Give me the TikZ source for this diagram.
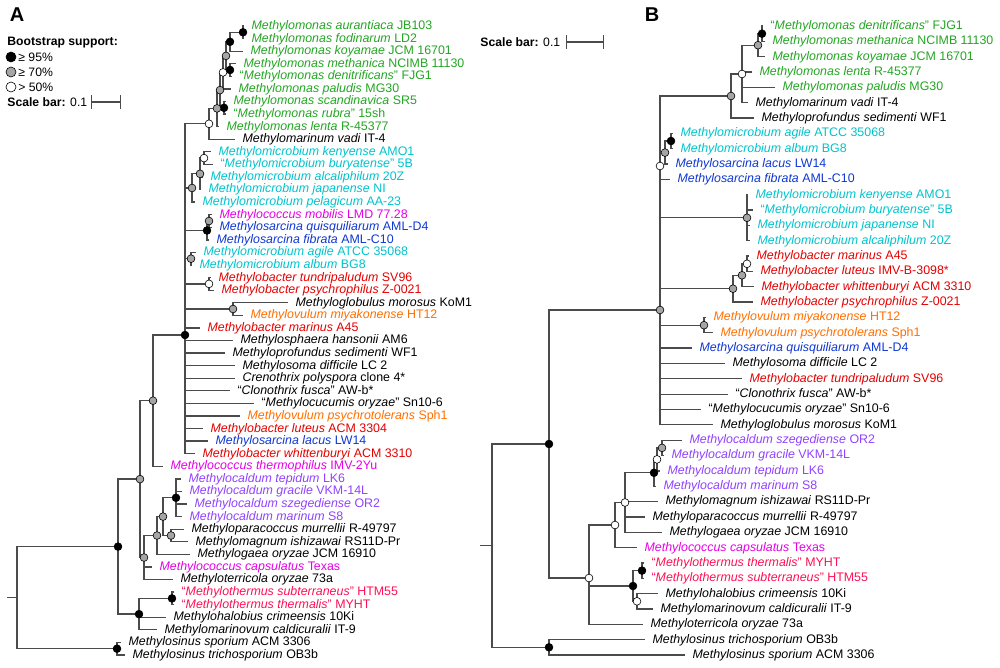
\documentclass[tikz,border=0pt]{standalone}
\usepackage{fontspec}
\setmainfont{Liberation Sans}
\usepackage{tikz}

\definecolor{brgray}{RGB}{75,75,75}
\definecolor{bsgray}{RGB}{165,165,165}
\definecolor{mgreen}{RGB}{35,165,35}
\definecolor{mcyan}{RGB}{0,195,205}
\definecolor{mmagenta}{RGB}{230,0,230}
\definecolor{mblue}{RGB}{15,55,210}
\definecolor{mred}{RGB}{228,0,0}
\definecolor{morange}{RGB}{255,110,0}
\definecolor{mpurple}{RGB}{145,65,255}
\definecolor{mpink}{RGB}{255,15,85}

\newcommand{\gsp}[2]{\textit{#1} #2}
\newcommand{\gqsp}[2]{“\textit{#1}” #2}

\begin{document}
\begin{tikzpicture}[x=0.5pt, y=-0.5pt,
  br/.style = {draw=brgray, line width=0.65pt},
  leaf/.style = {anchor=west, inner xsep=3.6pt, inner ysep=0pt,
    text height=4.7pt, text depth=1.25pt, font=\fontsize{6.2}{7}\selectfont},
  legtext/.style = {anchor=west, inner sep=0pt, font=\fontsize{6.1}{7}\selectfont},
  panel/.style = {inner sep=0pt, font=\fontsize{10}{11}\selectfont\bfseries},
  bsdot/.style = {circle, draw=black, line width=0.3pt, inner sep=0pt, minimum size=3.9pt},
  boot95/.style = {bsdot, fill=black},
  boot70/.style = {bsdot, fill=bsgray},
  boot50/.style = {bsdot, fill=white},
  legdot/.style = {minimum size=5pt}]
\useasboundingbox (0,0) rectangle (1000,668);

% panel A: legend
\node[panel] (pA) at (17,15) {A};
\node[legtext] (legTitle) at (7,43) {\bfseries Bootstrap support:};
\node[boot95, legdot] (leg95) at (11,57) {};
\node[boot70, legdot] (leg70) at (11,72) {};
\node[boot50, legdot] (leg50) at (11,87) {};
\node[legtext] (leg95t) at (18,57) {≥ 95\%};
\node[legtext] (leg70t) at (18,72) {≥ 70\%};
\node[legtext] (leg50t) at (18,87) {> 50\%};
\node[legtext] (sbAt) at (7,102) {\textbf{Scale bar:} 0.1};
\coordinate (sbA1) at (91,102);
\coordinate (sbA2) at (121,102);
\draw[br, |-|] (sbA1) -- (sbA2);

% panel A: inner nodes
\coordinate (aRoot0) at (7,597.7);
\coordinate (aRoot) at (17,597.7);
\coordinate (aN1) at (118,546.6);
\coordinate (aSin) at (117,648.7);
\coordinate (aUp) at (140,479.1);
\coordinate (aHal) at (139,614.1);
\coordinate (aG) at (153,400.7);
\coordinate (aCT) at (144,557.5);
\coordinate (aPoly) at (185,335);
\coordinate (aMM) at (209,123.8);
\coordinate (aA) at (217,108.4);
\coordinate (aB) at (220,90.1);
\coordinate (aC) at (223,72.4);
\coordinate (aD) at (226,55.9);
\coordinate (aE) at (230,41.8);
\coordinate (aAF) at (243,32.3);
\coordinate (aMD) at (230,70.0);
\coordinate (aSR) at (224,107.8);
\coordinate (aMC) at (192,188);
\coordinate (aKJ) at (200,173.8);
\coordinate (aKB) at (204,158.1);
\coordinate (aMF) at (207,230.5);
\coordinate (aMQ) at (209,221);
\coordinate (aAA) at (191,258.7);
\coordinate (aTP) at (209,283.9);
\coordinate (aMO) at (233,309);
\coordinate (aCG) at (157,535.5);
\coordinate (aCM) at (163,516.6);
\coordinate (aMcl) at (176,497.8);
\coordinate (aMI) at (171,535.5);
\coordinate (aTh) at (172,598.4);

% panel A: leaves
\node[leaf, mgreen] (aAur) at (244,26.0) {\gsp{Methylomonas aurantiaca}{JB103}};
\node[leaf, mgreen] (aFod) at (244,38.6) {\gsp{Methylomonas fodinarum}{LD2}};
\node[leaf, mgreen] (aKoy) at (243,51.2) {\gsp{Methylomonas koyamae}{JCM 16701}};
\node[leaf, mgreen] (aMet) at (236,63.7) {\gsp{Methylomonas methanica}{NCIMB 11130}};
\node[leaf, mgreen] (aDen) at (232,76.3) {\gqsp{Methylomonas denitrificans}{FJG1}};
\node[leaf, mgreen] (aPal) at (231,88.9) {\gsp{Methylomonas paludis}{MG30}};
\node[leaf, mgreen] (aSca) at (226,101.5) {\gsp{Methylomonas scandinavica}{SR5}};
\node[leaf, mgreen] (aRub) at (226,114.1) {\gqsp{Methylomonas rubra}{15sh}};
\node[leaf, mgreen] (aLen) at (219,126.6) {\gsp{Methylomonas lenta}{R-45377}};
\node[leaf] (aVad) at (235,139.2) {\gsp{Methylomarinum vadi}{IT-4}};
\node[leaf, mcyan] (aKen) at (211,151.8) {\gsp{Methylomicrobium kenyense}{AMO1}};
\node[leaf, mcyan] (aBur) at (213,164.4) {\gqsp{Methylomicrobium buryatense}{5B}};
\node[leaf, mcyan] (aAlc) at (203,177.0) {\gsp{Methylomicrobium alcaliphilum}{20Z}};
\node[leaf, mcyan] (aJap) at (201,189.5) {\gsp{Methylomicrobium japanense}{NI}};
\node[leaf, mcyan] (aPel) at (195,202.1) {\gsp{Methylomicrobium pelagicum}{AA-23}};
\node[leaf, mmagenta] (aMob) at (212,214.7) {\gsp{Methylococcus mobilis}{LMD 77.28}};
\node[leaf, mblue] (aQui) at (212,227.3) {\gsp{Methylosarcina quisquiliarum}{AML-D4}};
\node[leaf, mblue] (aFib) at (209,239.9) {\gsp{Methylosarcina fibrata}{AML-C10}};
\node[leaf, mcyan] (aAgi) at (196,252.4) {\gsp{Methylomicrobium agile}{ATCC 35068}};
\node[leaf, mcyan] (aAlb) at (192,265.0) {\gsp{Methylomicrobium album}{BG8}};
\node[leaf, mred] (aTun) at (211,277.6) {\gsp{Methylobacter tundripaludum}{SV96}};
\node[leaf, mred] (aPsy) at (214,290.2) {\gsp{Methylobacter psychrophilus}{Z-0021}};
\node[leaf] (aMor) at (288,302.8) {\gsp{Methyloglobulus morosus}{KoM1}};
\node[leaf, morange] (aMiy) at (243,315.3) {\gsp{Methylovulum miyakonense}{HT12}};
\node[leaf, mred] (aMar) at (200,327.9) {\gsp{Methylobacter marinus}{A45}};
\node[leaf] (aHan) at (233,340.5) {\gsp{Methylosphaera hansonii}{AM6}};
\node[leaf] (aSed) at (225,353.1) {\gsp{Methyloprofundus sedimenti}{WF1}};
\node[leaf] (aDif) at (235,365.7) {\gsp{Methylosoma difficile}{LC 2}};
\node[leaf] (aCre) at (235,378.2) {\gsp{Crenothrix polyspora}{clone 4*}};
\node[leaf] (aClo) at (230,390.8) {\gqsp{Clonothrix fusca}{AW-b*}};
\node[leaf] (aCuc) at (254,403.4) {\gqsp{Methylocucumis oryzae}{Sn10-6}};
\node[leaf, morange] (aPst) at (240,416.0) {\gsp{Methylovulum psychrotolerans}{Sph1}};
\node[leaf, mred] (aLut) at (203,428.6) {\gsp{Methylobacter luteus}{ACM 3304}};
\node[leaf, mblue] (aLac) at (208,441.1) {\gsp{Methylosarcina lacus}{LW14}};
\node[leaf, mred] (aWhi) at (195,453.7) {\gsp{Methylobacter whittenburyi}{ACM 3310}};
\node[leaf, mmagenta] (aThe) at (163,466.3) {\gsp{Methylococcus thermophilus}{IMV-2Yu}};
\node[leaf, mpurple] (aTep) at (181,478.9) {\gsp{Methylocaldum tepidum}{LK6}};
\node[leaf, mpurple] (aGra) at (182,491.5) {\gsp{Methylocaldum gracile}{VKM-14L}};
\node[leaf, mpurple] (aSze) at (187,504.0) {\gsp{Methylocaldum szegediense}{OR2}};
\node[leaf, mpurple] (aMrn) at (182,516.6) {\gsp{Methylocaldum marinum}{S8}};
\node[leaf] (aMur) at (184,529.2) {\gsp{Methyloparacoccus murrellii}{R-49797}};
\node[leaf] (aIsh) at (188,541.8) {\gsp{Methylomagnum ishizawai}{RS11D-Pr}};
\node[leaf] (aGae) at (190,554.4) {\gsp{Methylogaea oryzae}{JCM 16910}};
\node[leaf, mmagenta] (aCap) at (152,566.9) {\gsp{Methylococcus capsulatus}{Texas}};
\node[leaf] (aTer) at (173,579.5) {\gsp{Methyloterricola oryzae}{73a}};
\node[leaf, mpink] (aSub) at (174,592.1) {\gqsp{Methylothermus subterraneus}{HTM55}};
\node[leaf, mpink] (aThm) at (174,604.7) {\gqsp{Methylothermus thermalis}{MYHT}};
\node[leaf] (aCri) at (166,617.3) {\gsp{Methylohalobius crimeensis}{10Ki}};
\node[leaf] (aCdc) at (157,629.8) {\gsp{Methylomarinovum caldicuralii}{IT-9}};
\node[leaf] (aSpo) at (121,642.4) {\gsp{Methylosinus sporium}{ACM 3306}};
\node[leaf] (aTri) at (125,655.0) {\gsp{Methylosinus trichosporium}{OB3b}};

% panel A: branches
\draw[br] (aRoot0) -- (aRoot);
\foreach \p/\c in {aRoot/aN1, aRoot/aSin, aN1/aUp, aN1/aHal, aUp/aG, aUp/aCT,
    aG/aPoly, aG/aThe,
    aPoly/aMM, aPoly/aMC, aPoly/aMF, aPoly/aAA, aPoly/aTP, aPoly/aMO,
    aPoly/aMar, aPoly/aHan, aPoly/aSed, aPoly/aDif, aPoly/aCre, aPoly/aClo,
    aPoly/aCuc, aPoly/aPst, aPoly/aLut, aPoly/aLac, aPoly/aWhi,
    aMM/aA, aMM/aVad, aA/aB, aA/aLen, aB/aC, aB/aSR, aC/aD, aC/aPal,
    aD/aE, aD/aMD, aE/aAF, aE/aKoy, aAF/aAur, aAF/aFod, aMD/aMet, aMD/aDen,
    aSR/aSca, aSR/aRub, aMC/aKJ, aMC/aPel, aKJ/aKB, aKJ/aAlc, aKJ/aJap,
    aKB/aKen, aKB/aBur, aMF/aMQ, aMF/aFib, aMQ/aMob, aMQ/aQui,
    aAA/aAgi, aAA/aAlb, aTP/aTun, aTP/aPsy, aMO/aMor, aMO/aMiy,
    aCT/aCG, aCT/aCap, aCT/aTer, aCG/aCM, aCG/aGae, aCM/aMcl, aCM/aMI,
    aMcl/aTep, aMcl/aGra, aMcl/aSze, aMcl/aMrn, aMI/aMur, aMI/aIsh,
    aHal/aTh, aHal/aCri, aHal/aCdc, aTh/aSub, aTh/aThm, aSin/aSpo, aSin/aTri}
  \draw[br] (\p) |- (\c);

% panel A: bootstrap dots
\foreach \n in {aAF, aE, aMD, aSR, aMF, aPoly, aMcl, aTh, aHal, aN1, aSin}
  \node[boot95] (c\n) at (\n) {};
\foreach \n in {aD, aB, aA, aKJ, aMC, aMQ, aAA, aMO, aG, aCM, aMI, aCG, aCT, aUp}
  \node[boot70] (c\n) at (\n) {};
\foreach \n in {aC, aMM, aKB, aTP}
  \node[boot50] (c\n) at (\n) {};

% panel B: legend
\node[panel] (pB) at (652,15) {B};
\node[legtext] (sbBt) at (480,42) {\textbf{Scale bar:} 0.1};
\coordinate (sbB1) at (566,42);
\coordinate (sbB2) at (604,42);
\draw[br, |-|] (sbB1) -- (sbB2);

% panel B: inner nodes
\coordinate (bRoot0) at (480,545.7);
\coordinate (bRoot) at (492,545.7);
\coordinate (bN1) at (549,444);
\coordinate (bSin) at (549,647.3);
\coordinate (bPoly) at (660,310);
\coordinate (bMS) at (731,96);
\coordinate (bMM) at (742,74);
\coordinate (bMK) at (758,45.2);
\coordinate (bDM) at (762,33.7);
\coordinate (bAF) at (660,166);
\coordinate (bAL) at (665,152.6);
\coordinate (bAA) at (671,141);
\coordinate (bKN) at (747,217.8);
\coordinate (bMB) at (733,288.7);
\coordinate (bMX) at (742,275.3);
\coordinate (bMW) at (747,263.8);
\coordinate (bMV) at (704,325.2);
\coordinate (bLow) at (589,578);
\coordinate (bGC) at (615,525);
\coordinate (bGX) at (625,502.5);
\coordinate (bGM) at (654,472.8);
\coordinate (bGT) at (657,459.4);
\coordinate (bGS) at (662,447.9);
\coordinate (bTH) at (633,586);
\coordinate (bTT) at (642,570.6);
\coordinate (bHC) at (637,601.3);

% panel B: leaves
\node[leaf, mgreen] (bDen) at (763,26.0) {\gqsp{Methylomonas denitrificans}{FJG1}};
\node[leaf, mgreen] (bMet) at (765,41.3) {\gsp{Methylomonas methanica}{NCIMB 11130}};
\node[leaf, mgreen] (bKoy) at (765,56.7) {\gsp{Methylomonas koyamae}{JCM 16701}};
\node[leaf, mgreen] (bLen) at (752,72.0) {\gsp{Methylomonas lenta}{R-45377}};
\node[leaf, mgreen] (bPal) at (775,87.4) {\gsp{Methylomonas paludis}{MG30}};
\node[leaf] (bVad) at (748,102.7) {\gsp{Methylomarinum vadi}{IT-4}};
\node[leaf] (bSed) at (754,118.0) {\gsp{Methyloprofundus sedimenti}{WF1}};
\node[leaf, mcyan] (bAgi) at (673,133.4) {\gsp{Methylomicrobium agile}{ATCC 35068}};
\node[leaf, mcyan] (bAlb) at (673,148.7) {\gsp{Methylomicrobium album}{BG8}};
\node[leaf, mblue] (bLac) at (668,164.1) {\gsp{Methylosarcina lacus}{LW14}};
\node[leaf, mblue] (bFib) at (670,179.4) {\gsp{Methylosarcina fibrata}{AML-C10}};
\node[leaf, mcyan] (bKen) at (748,194.7) {\gsp{Methylomicrobium kenyense}{AMO1}};
\node[leaf, mcyan] (bBur) at (753,210.1) {\gqsp{Methylomicrobium buryatense}{5B}};
\node[leaf, mcyan] (bJap) at (750,225.4) {\gsp{Methylomicrobium japanense}{NI}};
\node[leaf, mcyan] (bAlc) at (750,240.8) {\gsp{Methylomicrobium alcaliphilum}{20Z}};
\node[leaf, mred] (bMar) at (749,256.1) {\gsp{Methylobacter marinus}{A45}};
\node[leaf, mred] (bLut) at (753,271.4) {\gsp{Methylobacter luteus}{IMV-B-3098*}};
\node[leaf, mred] (bWhi) at (754,286.8) {\gsp{Methylobacter whittenburyi}{ACM 3310}};
\node[leaf, mred] (bPsy) at (753,302.1) {\gsp{Methylobacter psychrophilus}{Z-0021}};
\node[leaf, morange] (bMiy) at (706,317.5) {\gsp{Methylovulum miyakonense}{HT12}};
\node[leaf, morange] (bPst) at (713,332.8) {\gsp{Methylovulum psychrotolerans}{Sph1}};
\node[leaf, mblue] (bQui) at (692,348.1) {\gsp{Methylosarcina quisquiliarum}{AML-D4}};
\node[leaf] (bDif) at (725,363.5) {\gsp{Methylosoma difficile}{LC 2}};
\node[leaf, mred] (bTun) at (742,378.8) {\gsp{Methylobacter tundripaludum}{SV96}};
\node[leaf] (bClo) at (728,394.2) {\gqsp{Clonothrix fusca}{AW-b*}};
\node[leaf] (bCuc) at (701,409.5) {\gqsp{Methylocucumis oryzae}{Sn10-6}};
\node[leaf] (bMor) at (713,424.8) {\gsp{Methyloglobulus morosus}{KoM1}};
\node[leaf, mpurple] (bSze) at (682,440.2) {\gsp{Methylocaldum szegediense}{OR2}};
\node[leaf, mpurple] (bGra) at (664,455.5) {\gsp{Methylocaldum gracile}{VKM-14L}};
\node[leaf, mpurple] (bTep) at (660,470.9) {\gsp{Methylocaldum tepidum}{LK6}};
\node[leaf, mpurple] (bMrn) at (656,486.2) {\gsp{Methylocaldum marinum}{S8}};
\node[leaf] (bIsh) at (658,501.5) {\gsp{Methylomagnum ishizawai}{RS11D-Pr}};
\node[leaf] (bMur) at (645,516.9) {\gsp{Methyloparacoccus murrellii}{R-49797}};
\node[leaf] (bGae) at (662,532.2) {\gsp{Methylogaea oryzae}{JCM 16910}};
\node[leaf, mmagenta] (bCap) at (637,547.6) {\gsp{Methylococcus capsulatus}{Texas}};
\node[leaf, mpink] (bThm) at (644,562.9) {\gqsp{Methylothermus thermalis}{MYHT}};
\node[leaf, mpink] (bSub) at (644,578.2) {\gqsp{Methylothermus subterraneus}{HTM55}};
\node[leaf] (bCri) at (658,593.6) {\gsp{Methylohalobius crimeensis}{10Ki}};
\node[leaf] (bCdc) at (653,608.9) {\gsp{Methylomarinovum caldicuralii}{IT-9}};
\node[leaf] (bTer) at (643,624.3) {\gsp{Methyloterricola oryzae}{73a}};
\node[leaf] (bTri) at (645,639.6) {\gsp{Methylosinus trichosporium}{OB3b}};
\node[leaf] (bSpo) at (685,654.9) {\gsp{Methylosinus sporium}{ACM 3306}};

% panel B: branches
\draw[br] (bRoot0) -- (bRoot);
\foreach \p/\c in {bRoot/bN1, bRoot/bSin, bN1/bPoly, bN1/bLow,
    bPoly/bMS, bPoly/bAF, bPoly/bKN, bPoly/bMB, bPoly/bMV, bPoly/bQui,
    bPoly/bDif, bPoly/bTun, bPoly/bClo, bPoly/bCuc, bPoly/bMor,
    bMS/bMM, bMS/bSed, bMM/bMK, bMM/bLen, bMM/bPal, bMM/bVad,
    bMK/bDM, bMK/bKoy, bDM/bDen, bDM/bMet, bAF/bAL, bAF/bFib,
    bAL/bAA, bAL/bLac, bAA/bAgi, bAA/bAlb,
    bKN/bKen, bKN/bBur, bKN/bJap, bKN/bAlc,
    bMB/bMX, bMB/bPsy, bMX/bMW, bMX/bWhi, bMW/bMar, bMW/bLut,
    bMV/bMiy, bMV/bPst,
    bLow/bGC, bLow/bTH, bLow/bTer, bGC/bGX, bGC/bCap,
    bGX/bGM, bGX/bIsh, bGX/bMur, bGX/bGae, bGM/bGT, bGM/bMrn,
    bGT/bGS, bGT/bTep, bGS/bSze, bGS/bGra,
    bTH/bTT, bTH/bHC, bTT/bThm, bTT/bSub, bHC/bCri, bHC/bCdc,
    bSin/bTri, bSin/bSpo}
  \draw[br] (\p) |- (\c);

% panel B: bootstrap dots
\foreach \n in {bDM, bAA, bGM, bTT, bTH, bN1, bSin}
  \node[boot95] (c\n) at (\n) {};
\foreach \n in {bMK, bMS, bAL, bKN, bMX, bMB, bMV, bPoly, bGS}
  \node[boot70] (c\n) at (\n) {};
\foreach \n in {bMM, bAF, bMW, bGT, bGX, bGC, bHC, bLow}
  \node[boot50] (c\n) at (\n) {};
\end{tikzpicture}
\end{document}
